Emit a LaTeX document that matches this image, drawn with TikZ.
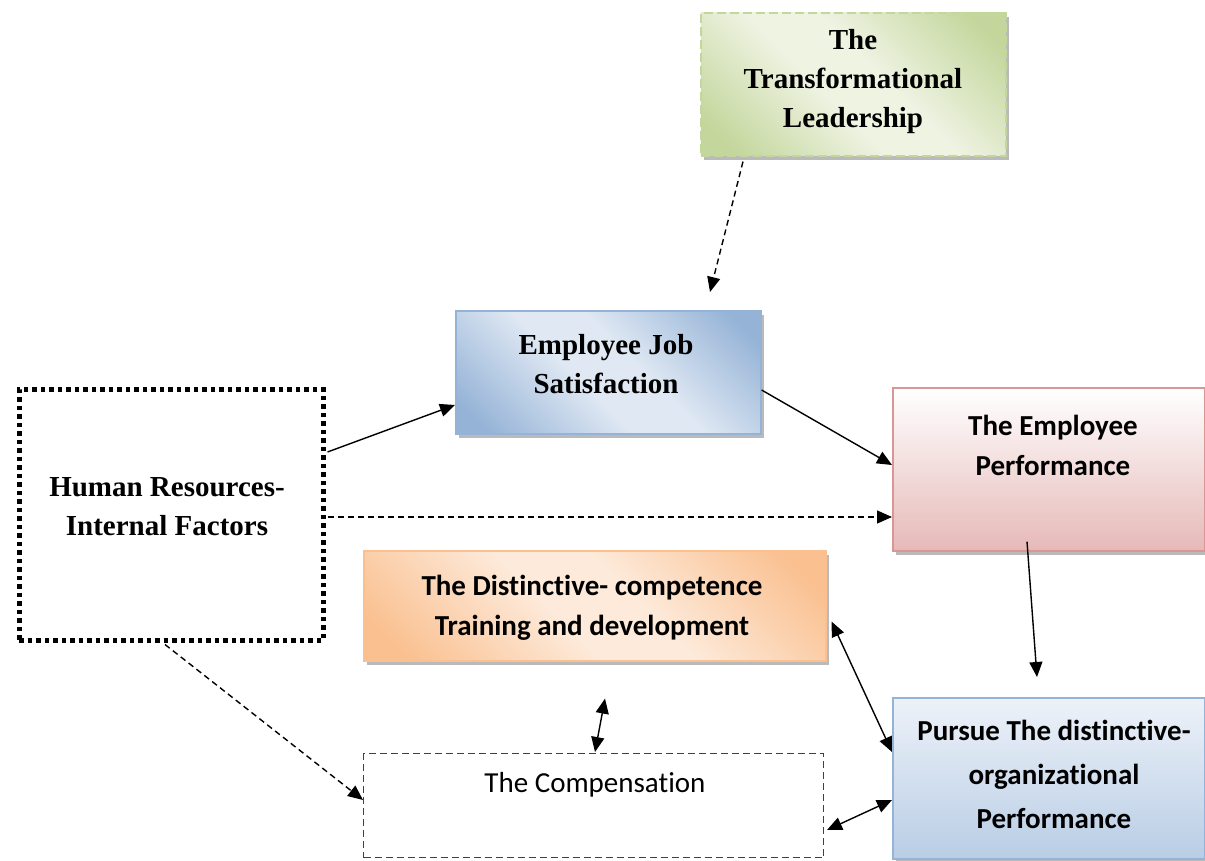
\documentclass[tikz,border=0pt]{standalone}
\usepackage{fontspec}
\newfontfamily\timesf{Liberation Serif}
\newfontfamily\calf[Ligatures=NoCommon]{Carlito}
\usetikzlibrary{arrows.meta,shadows,calc}
\definecolor{grD}{HTML}{C3D69B}
\definecolor{grL}{HTML}{EEF3E2}
\definecolor{blD}{HTML}{95B3D7}
\definecolor{blL}{HTML}{DFE8F3}
\definecolor{pkD}{HTML}{D99694}
\definecolor{pkB}{HTML}{E6B9B8}
\definecolor{orD}{HTML}{FAC090}
\definecolor{orL}{HTML}{FDEADA}
\definecolor{puT}{HTML}{EDF2F9}
\definecolor{puB}{HTML}{B9CDE5}
\pgfdeclarehorizontalshading{bandgreen}{100bp}{color(0bp)=(grD); color(20bp)=(grD); color(44bp)=(grL); color(56bp)=(grL); color(80bp)=(grD); color(100bp)=(grD)}
\pgfdeclarehorizontalshading{bandblue}{100bp}{color(0bp)=(blD); color(20bp)=(blD); color(44bp)=(blL); color(56bp)=(blL); color(80bp)=(blD); color(100bp)=(blD)}
\pgfdeclarehorizontalshading{bandorange}{100bp}{color(0bp)=(orD); color(20bp)=(orD); color(44bp)=(orL); color(56bp)=(orL); color(80bp)=(orD); color(100bp)=(orD)}
\begin{document}
\begin{tikzpicture}[x=1pt,y=-1pt,
  box/.style={line width=1.6pt, inner sep=0pt, anchor=north west,
    drop shadow={shadow xshift=3pt, shadow yshift=-4pt, opacity=0.45, fill=black!60}},
  tfont/.style={font=\timesf\bfseries\fontsize{29}{39}\selectfont, align=center, inner sep=0pt},
  cfont/.style={font=\calf\bfseries\fontsize{29}{40}\selectfont, align=center, inner sep=0pt},
  arr/.style={line width=1.4pt, -{Triangle[length=15pt,width=13pt]}},
  darr/.style={arr, dash pattern=on 6pt off 4pt},
  barr/.style={line width=1.4pt, {Triangle[length=15pt,width=13pt]}-{Triangle[length=15pt,width=13pt]}}
]
\useasboundingbox (0,0) rectangle (1205,861);
\fill[white] (0,0) rectangle (1205,861);
% boxes
\node[box, draw=grD, dash pattern=on 9pt off 4pt, shading=bandgreen, shading angle=45,
  minimum width=305pt, minimum height=143pt] (tl) at (700,12) {};
\node[box, draw=blD, shading=bandblue, shading angle=45,
  minimum width=305pt, minimum height=123pt] (ejs) at (455,310) {};
\node[draw=black, line width=4.5pt, dash pattern=on 4.5pt off 4pt, inner sep=0pt, anchor=north west,
  minimum width=304pt, minimum height=251pt] (hr) at (17,387) {};
\node[box, draw=pkD, top color=white, bottom color=pkB,
  minimum width=312pt, minimum height=163pt] (ep) at (892,387) {};
\node[box, draw=orD, shading=bandorange, shading angle=45,
  minimum width=462pt, minimum height=110pt] (dc) at (363,550) {};
\node[draw=black!75, line width=1pt, dash pattern=on 7pt off 4pt, inner sep=0pt, anchor=north west,
  minimum width=460pt, minimum height=104pt] (cp) at (363,753) {};
\node[box, draw=blD, top color=puT, bottom color=puB,
  minimum width=312pt, minimum height=161pt] (pu) at (892,697) {};
% texts
\node[tfont] (tlt) at (853,82) {The\\Transformational\\Leadership};
\node[tfont] (ejst) at (606,364) {Employee Job\\Satisfaction};
\node[tfont] (hrt) at (167,507) {Human Resources-\\Internal Factors};
\node[cfont] (ept) at (1053,445) {The Employee\\Performance};
\node[cfont] (dct) at (592,608) {The Distinctive- competence\\Training and development};
\node[cfont, font=\calf\bfseries\fontsize{29}{44}\selectfont] (put) at (1054,774) {Pursue The distinctive-\\organizational\\Performance};
\node[font=\calf\fontsize{29}{36}\selectfont, inner sep=0pt] (cpt) at (595,785) {The Compensation};
% connectors
\draw[darr] ($(tl.south west)+(43,5)$) -- ($(ejs.north west)+(255,-18)$);
\draw[arr] ($(hr.north east)+(2,65)$) -- ($(ejs.north west)+(0,95)$);
\draw[arr] ($(ejs.north east)+(0,80)$) -- ($(ep.north west)+(0,78)$);
\draw[darr] ($(hr.north east)+(2,130)$) -- ($(ep.north west)+(0,130)$);
\draw[arr] ($(ep.south west)+(135,-10)$) -- ($(pu.north west)+(145,-20)$);
\draw[barr] ($(dc.south east)+(5,-40)$) -- ($(pu.north west)+(0,55)$);
\draw[barr] ($(dc.south west)+(242,37)$) -- ($(cp.north west)+(232,-1)$);
\draw[darr] ($(hr.south west)+(148,2)$) -- ($(cp.north west)+(0,47)$);
\draw[barr] ($(cp.south east)+(3,-28)$) -- ($(pu.north west)+(0,103)$);
\end{tikzpicture}
\end{document}
